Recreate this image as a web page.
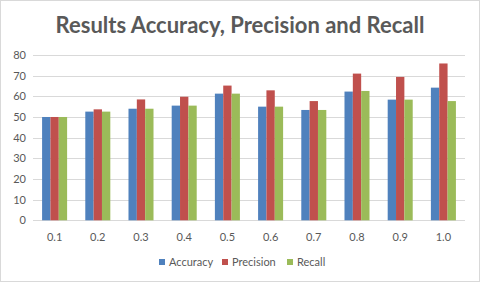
<!DOCTYPE html>
<html>
<head>
<meta charset="utf-8">
<script src="https://cdn.jsdelivr.net/npm/d3@7"></script>
<style>
  body { margin: 0; background: #fff; }
  text { font-family: Lato, "Open Sans", sans-serif; fill: #595959; }
</style>
</head>
<body>
<div id="chart"></div>
<script>
// Data
const categories = ["0.1", "0.2", "0.3", "0.4", "0.5", "0.6", "0.7", "0.8", "0.9", "1.0"];
const accuracy = [50, 52.6, 54, 55.5, 61.3, 55, 53.4, 62.3, 58.4, 64.2];
const precision = [50, 53.7, 58.5, 59.8, 65.2, 62.9, 57.7, 71, 69.4, 75.9];
const recall = [50, 52.6, 54, 55.5, 61.3, 55, 53.4, 62.6, 58.4, 57.7];
const seriesNames = ["Accuracy", "Precision", "Recall"];
const yTicks = [0, 10, 20, 30, 40, 50, 60, 70, 80];

const colors = ["#4F81BD", "#C0504D", "#9BBB59"];
const allSeries = [accuracy, precision, recall];

// Dimensions
const width = 480;
const height = 282;
const margin = { top: 55, right: 15, bottom: 62, left: 33 };

const svg = d3
  .select("#chart")
  .append("svg")
  .attr("width", width)
  .attr("height", height);

// Chart border
svg
  .append("rect")
  .attr("x", 0.5)
  .attr("y", 0.5)
  .attr("width", width - 1)
  .attr("height", height - 1)
  .attr("fill", "#fff")
  .attr("stroke", "#D9D9D9");

// Title
svg
  .append("text")
  .attr("x", width / 2)
  .attr("y", 33)
  .attr("text-anchor", "middle")
  .style("font-size", "22px")
  .style("font-weight", "bold")
  .text("Results Accuracy, Precision and Recall");

// Scales
const x = d3
  .scaleBand()
  .domain(categories)
  .range([margin.left, width - margin.right]);
const xInner = d3
  .scaleBand()
  .domain(seriesNames)
  .range([0, x.bandwidth()])
  .paddingInner(0)
  .paddingOuter(1.09);
const y = d3
  .scaleLinear()
  .domain([0, 80])
  .range([height - margin.bottom + 0.3, margin.top]);

// Gridlines
svg
  .append("g")
  .selectAll("line")
  .data(yTicks)
  .join("line")
  .attr("x1", margin.left)
  .attr("x2", width - margin.right)
  .attr("y1", (d) => Math.round(y(d)) + 0.5)
  .attr("y2", (d) => Math.round(y(d)) + 0.5)
  .attr("stroke", "#D9D9D9");

// Y labels
svg
  .append("g")
  .selectAll("text")
  .data(yTicks)
  .join("text")
  .attr("x", 26)
  .attr("y", (d) => y(d) + 4)
  .attr("text-anchor", "end")
  .style("font-size", "11px")
  .text((d) => d);

// Bars
const groups = svg
  .append("g")
  .selectAll("g")
  .data(categories)
  .join("g")
  .attr("transform", (d) => `translate(${x(d)},0)`);

groups
  .selectAll("rect")
  .data((d, i) => seriesNames.map((s, j) => ({ s, j, v: allSeries[j][i] })))
  .join("rect")
  .attr("x", (d) => xInner(d.s))
  .attr("width", xInner.bandwidth())
  .attr("y", (d) => y(d.v))
  .attr("height", (d) => y(0) - y(d.v))
  .attr("fill", (d) => colors[d.j]);

// X labels
svg
  .append("g")
  .selectAll("text")
  .data(categories)
  .join("text")
  .attr("x", (d) => x(d) + x.bandwidth() / 2)
  .attr("y", 241)
  .attr("text-anchor", "middle")
  .style("font-size", "11px")
  .text((d) => d);

// Legend
const legendX = [159, 222, 287];
const legend = svg
  .append("g")
  .selectAll("g")
  .data(seriesNames)
  .join("g")
  .attr("transform", (d, i) => `translate(${legendX[i]},262)`);
legend
  .append("rect")
  .attr("x", 0)
  .attr("y", -3)
  .attr("width", 6)
  .attr("height", 6)
  .attr("fill", (d, i) => colors[i]);
legend
  .append("text")
  .attr("x", 10)
  .attr("y", 4)
  .style("font-size", "11px")
  .text((d) => d);
</script>
</body>
</html>
